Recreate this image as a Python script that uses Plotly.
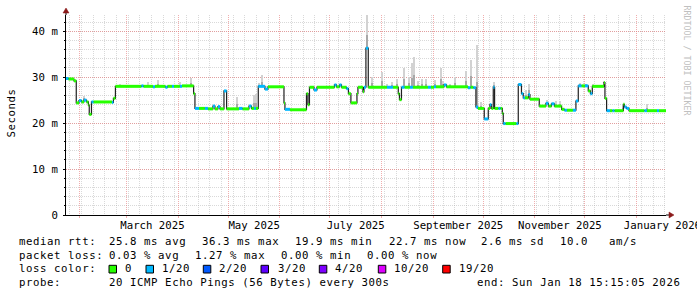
import numpy as np
import pandas as pd
import plotly.graph_objects as go

# ---------------- data ----------------
start_time = "2025-01-23 15:15"
end_time = "2026-01-18 15:15"

# median rtt steps (ms) and packets lost out of 20
seg_start = [
    "2025-01-23 15:15", "2025-01-25 02:00", "2025-01-28 10:00", "2025-01-29 19:00", "2025-01-31 10:00",
    "2025-02-01 22:00", "2025-02-03 10:00", "2025-02-04 22:00", "2025-02-06 02:00", "2025-02-06 14:00",
    "2025-02-07 22:00", "2025-02-09 02:00", "2025-02-20 05:00", "2025-02-21 02:00", "2025-02-22 07:00",
    "2025-03-09 22:00", "2025-03-11 02:00", "2025-03-16 19:00", "2025-03-18 00:00", "2025-03-24 07:00",
    "2025-03-25 12:00", "2025-03-28 05:00", "2025-03-29 10:00", "2025-04-02 00:00", "2025-04-03 05:00",
    "2025-04-10 05:00", "2025-04-11 00:00", "2025-04-13 10:00", "2025-04-17 00:00", "2025-04-18 19:00",
    "2025-04-21 19:00", "2025-04-23 00:00", "2025-04-24 19:00", "2025-04-26 00:00", "2025-04-28 10:00",
    "2025-04-30 00:00", "2025-05-07 10:00", "2025-05-09 12:00", "2025-05-13 10:00", "2025-05-14 22:00",
    "2025-05-16 10:00", "2025-05-17 14:00", "2025-05-19 00:00", "2025-05-23 00:00", "2025-05-24 19:00",
    "2025-06-03 10:00", "2025-06-04 00:00", "2025-06-07 00:00", "2025-06-16 22:00", "2025-06-17 19:00",
    "2025-06-18 17:00", "2025-06-21 10:00", "2025-06-23 05:00", "2025-07-03 17:00", "2025-07-04 22:00",
    "2025-07-06 17:00", "2025-07-07 22:00", "2025-07-10 22:00", "2025-07-12 02:00", "2025-07-13 14:00",
    "2025-07-17 05:00", "2025-07-17 19:00", "2025-07-20 19:00", "2025-07-21 10:00", "2025-07-22 14:00",
    "2025-07-24 00:00", "2025-08-04 05:00", "2025-08-07 19:00", "2025-08-11 00:00", "2025-08-11 17:00",
    "2025-08-12 22:00", "2025-08-14 17:00", "2025-08-18 00:00", "2025-08-19 19:00", "2025-08-28 19:00",
    "2025-08-30 14:00", "2025-09-01 10:00", "2025-09-02 14:00", "2025-09-07 10:00", "2025-09-08 22:00",
    "2025-09-21 19:00", "2025-09-23 07:00", "2025-09-25 02:00", "2025-09-26 14:00", "2025-09-27 19:00",
    "2025-10-01 14:00", "2025-10-04 00:00", "2025-10-05 00:00", "2025-10-05 22:00", "2025-10-07 00:00",
    "2025-10-07 19:00", "2025-10-10 02:00", "2025-10-11 07:00", "2025-10-12 10:00", "2025-10-13 00:00",
    "2025-10-14 07:00", "2025-10-20 22:00", "2025-10-22 00:00", "2025-10-23 22:00", "2025-10-25 00:00",
    "2025-10-26 00:00", "2025-10-28 02:00", "2025-10-29 00:00", "2025-11-03 14:00", "2025-11-07 14:00",
    "2025-11-09 02:00", "2025-11-10 22:00", "2025-11-12 17:00", "2025-11-17 00:00", "2025-11-18 17:00",
    "2025-11-20 05:00", "2025-11-23 19:00", "2025-11-25 14:00", "2025-11-27 00:00", "2025-11-28 22:00",
    "2025-12-01 00:00", "2025-12-03 00:00", "2025-12-04 07:00", "2025-12-05 10:00", "2025-12-12 10:00",
    "2025-12-13 00:00", "2025-12-14 00:00", "2025-12-16 00:00", "2025-12-17 12:00", "2025-12-18 17:00",
    "2025-12-24 02:00", "2025-12-24 17:00", "2025-12-25 22:00", "2025-12-27 10:00", "2026-01-05 17:00",
    "2026-01-07 05:00", "2026-01-13 05:00", "2026-01-14 10:00",
]
seg_rtt = [
    29.7, 29.6, 29.2, 24.4, 24.9,
    24.6, 25.0, 24.6, 23.9, 21.9,
    24.6, 24.6, 24.5, 25.4, 28.0,
    28.1, 28.0, 27.9, 28.0, 27.8,
    28.0, 28.0, 28.0, 28.0, 28.1,
    26.4, 23.2, 23.2, 23.2, 23.1,
    23.7, 23.1, 23.6, 23.1, 27.0,
    23.1, 23.2, 23.1, 23.7, 23.2,
    23.2, 23.2, 28.0, 27.4, 27.9,
    24.4, 23.0, 22.9, 26.4, 24.0,
    27.8, 27.2, 27.8, 28.3, 27.9,
    28.3, 27.8, 27.5, 26.4, 24.4,
    26.4, 27.8, 26.8, 27.8, 36.3,
    27.8, 27.8, 27.8, 26.4, 25.1,
    27.8, 27.8, 27.8, 27.8, 27.8,
    27.8, 27.9, 27.9, 28.3, 27.9,
    27.7, 27.8, 27.7, 23.5, 23.2,
    20.9, 23.2, 24.0, 23.2, 27.8,
    23.2, 23.2, 23.2, 22.1, 19.9,
    19.9, 19.9, 28.4, 26.4, 25.5,
    25.5, 26.2, 25.2, 23.7, 24.3,
    23.7, 24.2, 23.7, 23.0, 22.8,
    22.8, 22.8, 24.8, 28.1, 28.1,
    28.1, 27.0, 26.4, 28.0, 28.8,
    25.4, 22.7, 22.7, 22.7, 22.7,
    24.1, 23.5, 23.2, 22.7, 22.7,
    22.7, 22.7, 22.7,
]
seg_loss = [
    1, 0, 0, 0, 1,
    0, 1, 0, 0, 0,
    1, 0, 1, 0, 0,
    1, 0, 1, 0, 1,
    0, 1, 0, 1, 0,
    0, 1, 0, 1, 0,
    1, 0, 1, 0, 1,
    0, 1, 0, 1, 0,
    1, 0, 1, 1, 0,
    0, 1, 0, 0, 0,
    0, 1, 0, 1, 0,
    1, 0, 1, 0, 0,
    0, 0, 0, 1, 1,
    0, 1, 0, 0, 0,
    1, 0, 1, 0, 1,
    0, 1, 0, 1, 0,
    1, 0, 1, 1, 0,
    1, 0, 1, 0, 1,
    0, 1, 0, 0, 1,
    0, 1, 1, 1, 1,
    0, 1, 0, 0, 1,
    0, 1, 0, 0, 1,
    0, 1, 1, 1, 0,
    1, 0, 1, 0, 0,
    0, 1, 0, 1, 0,
    0, 1, 1, 0, 1,
    0, 1, 0,
]

# smoke: highest ping of the round (ms)
smoke_time = [
    "2025-02-03 10:00", "2025-02-25 00:00", "2025-03-13 19:00", "2025-03-19 19:00", "2025-04-02 05:00",
    "2025-04-08 14:00", "2025-05-06 14:00", "2025-05-16 14:00", "2025-05-18 00:00", "2025-05-19 14:00",
    "2025-05-21 14:00", "2025-07-23 10:00", "2025-07-26 12:00", "2025-08-01 14:00", "2025-08-04 14:00",
    "2025-08-07 14:00", "2025-08-10 10:00", "2025-08-14 14:00", "2025-08-17 14:00", "2025-08-19 10:00",
    "2025-08-20 14:00", "2025-08-23 00:00", "2025-08-25 14:00", "2025-08-28 00:00", "2025-09-02 00:00",
    "2025-09-05 10:00", "2025-09-07 00:00", "2025-09-11 00:00", "2025-09-14 00:00", "2025-09-20 14:00",
    "2025-09-23 10:00", "2025-09-27 14:00", "2025-09-29 14:00", "2025-10-07 10:00", "2025-10-12 00:00",
    "2025-10-26 19:00", "2025-10-28 14:00", "2025-11-08 14:00", "2025-11-13 14:00", "2025-11-16 00:00",
    "2025-11-28 00:00", "2025-12-01 14:00", "2025-12-06 00:00", "2025-12-12 10:00", "2025-12-24 00:00",
    "2026-01-07 14:00",
]
smoke_top = [
    26.0, 28.6, 28.9, 29.4, 29.0,
    29.8, 25.7, 26.1, 26.4, 28.7,
    30.4, 43.5, 30.0, 31.2, 28.5,
    29.0, 29.5, 32.1, 30.1, 33.1,
    34.3, 29.2, 29.7, 29.5, 29.3,
    32.0, 29.2, 28.6, 30.1, 31.3,
    33.8, 37.0, 24.6, 29.0, 23.6,
    27.3, 28.6, 25.1, 24.8, 24.8,
    28.8, 28.6, 28.6, 29.1, 24.0,
    24.2,
]

y_tick_vals = [0, 10, 20, 30, 40]
y_tick_text = ["0", "10 m", "20 m", "30 m", "40 m"]
x_label_months = ["2025-03-01", "2025-05-01", "2025-07-01", "2025-09-01", "2025-11-01", "2026-01-01"]
x_label_text = ["March 2025", "May 2025", "July 2025", "September 2025", "November 2025", "January 2026"]

loss_labels = ["0", "1/20", "2/20", "3/20", "4/20", "10/20", "19/20"]
loss_colors = ["#26ff00", "#00b8ff", "#0059ff", "#5e00ff", "#7e00ff", "#dd00ff", "#ff0000"]

legend_rows = [
    [("median rtt:", 16.7), ("25.8 ms avg", 107.3), ("36.3 ms max", 200.0), ("19.9 ms min", 293.3),
     ("22.7 ms now", 386.7), ("2.6 ms sd", 479.3), ("10.0", 558.3), ("am/s", 607.3)],
    [("packet loss:", 16.7), ("0.03 % avg", 107.3), ("1.27 % max", 193.3), ("0.00 % min", 279.3),
     ("0.00 % now", 365.0)],
    [("loss color:", 16.7)],
    [("probe:", 16.7), ("20 ICMP Echo Pings (56 Bytes) every 300s", 107.3),
     ("end: Sun Jan 18 15:15:05 2026", 475.0)],
]
legend_baselines = [245.3, 258.7, 272.3, 286.3]
swatch_x = [109.0, 146.0, 203.3, 261.0, 319.3, 378.3, 442.7]
swatch_label_x = [122.7, 160.0, 217.3, 275.7, 333.3, 391.7, 456.7]

# ---------------- geometry helpers ----------------
W, H = 697, 297
L, R, T, B = 66, 31, 15, 82
PW, PH = W - L - R, H - T - B
def px(x):
    return (x - L) / PW
def py(y):
    return (T + PH - y) / PH

FONT = "DejaVu Sans Mono"
FS = 10.7
def sp(s):
    return '<span style="letter-spacing:0.58px">' + s.replace(" ", "&nbsp;") + "</span>"

# ---------------- traces ----------------
starts = pd.to_datetime(seg_start)
ends = list(starts[1:]) + [pd.Timestamp(end_time)]
fig = go.Figure()

# smoke
st = pd.to_datetime(smoke_time)
idx = np.searchsorted(starts.values, st.values, side="right") - 1
base = np.array(seg_rtt)[idx]
height = np.array(smoke_top) - base
bw = 0.75 * 86400000
fig.add_trace(go.Bar(x=st, y=height, base=base, width=bw, marker=dict(color="#d2d2d2", line_width=0),
                     hoverinfo="skip", showlegend=False))
fig.add_trace(go.Bar(x=st, y=height * 0.4, base=base, width=bw, marker=dict(color="#a8a8a8", line_width=0),
                     hoverinfo="skip", showlegend=False))

# median line
fig.add_trace(go.Scatter(x=list(starts) + [pd.Timestamp(end_time)], y=seg_rtt + [seg_rtt[-1]],
                         mode="lines", line=dict(color="#202020", width=1.2, shape="hv"),
                         hoverinfo="skip", showlegend=False))

# loss-coloured band
for lvl in sorted(set(seg_loss)):
    xs, ys = [], []
    for s0, e0, v, l in zip(starts, ends, seg_rtt, seg_loss):
        if l == lvl:
            xs += [s0, e0, None]
            ys += [v, v, None]
    fig.add_trace(go.Scatter(x=xs, y=ys, mode="lines", line=dict(color=loss_colors[lvl], width=3),
                             connectgaps=False, hoverinfo="skip", showlegend=False))

# invisible anchor for label axis
fig.add_trace(go.Scatter(x=[start_time, end_time], y=[0, 0], xaxis="x2", mode="markers",
                         marker=dict(opacity=0), hoverinfo="skip", showlegend=False))

lm = pd.to_datetime(x_label_months)
mid = [m + (m + pd.offsets.MonthBegin(1) - m) / 2 for m in lm]

minor_grid = "rgba(170,170,170,0.45)"
major_grid = "rgba(230,120,120,0.6)"

fig.update_layout(
    width=W, height=H, autosize=False,
    margin=dict(l=L, r=R, t=T, b=B, pad=0, autoexpand=False),
    paper_bgcolor="white", plot_bgcolor="white",
    barmode="overlay", bargap=0,
    showlegend=False,
    font=dict(family=FONT, size=FS, color="#000000"),
    xaxis=dict(type="date", range=[start_time, end_time], dtick="M1", tick0="2025-02-01",
               automargin=False,
               showticklabels=False, showgrid=True, gridcolor=major_grid, griddash="1px,1px",
               gridwidth=1, zeroline=False, showline=True, linecolor="#000000", linewidth=1,
               ticks="outside", ticklen=2, tickcolor=major_grid,
               minor=dict(dtick=7 * 86400000, tick0="2025-02-02", showgrid=True, gridcolor=minor_grid,
                          griddash="1px,1px", gridwidth=1, ticks="")),
    xaxis2=dict(type="date", range=[start_time, end_time], overlaying="x", anchor="y", side="bottom",
                automargin=False,
                tickvals=mid, ticktext=x_label_text, showgrid=False, showline=False, zeroline=False,
                ticks="", ticklabelstandoff=2, ticklabeloverflow="allow",
                tickfont=dict(family=FONT, size=FS, color="#000000")),
    yaxis=dict(range=[0, PH / 4.595], tickvals=y_tick_vals, ticktext=y_tick_text,
               automargin=False,
               showgrid=True, gridcolor=major_grid, griddash="1px,1px", gridwidth=1,
               zeroline=False, showline=True, linecolor="#000000", linewidth=1,
               ticks="outside", ticklen=2, tickcolor="#000000", ticklabelstandoff=3,
               tickfont=dict(family=FONT, size=FS, color="#000000"),
               minor=dict(dtick=2, tick0=0, showgrid=True, gridcolor=minor_grid, griddash="1px,1px",
                          gridwidth=1, ticks="outside", ticklen=1, tickcolor="#000000")),
)

ann = []
for row, yb in zip(legend_rows, legend_baselines):
    for text, x in row:
        ann.append(dict(text=sp(text), x=px(x), y=py(yb - 3.6), xref="paper", yref="paper",
                        xanchor="left", yanchor="middle", showarrow=False,
                        font=dict(family=FONT, size=FS, color="#000000")))
for lab, col, sx, lx in zip(loss_labels, loss_colors, swatch_x, swatch_label_x):
    ann.append(dict(text=sp(lab), x=px(lx), y=py(legend_baselines[2] - 3.6), xref="paper", yref="paper",
                    xanchor="left", yanchor="middle", showarrow=False,
                    font=dict(family=FONT, size=FS, color="#000000")))
ann.append(dict(text=sp("Seconds"), x=px(11), y=py(113.5), xref="paper", yref="paper",
                xanchor="center", yanchor="middle", textangle=-90, showarrow=False,
                font=dict(family=FONT, size=FS, color="#000000")))
ann.append(dict(text="RRDTOOL / TOBI OETIKER", x=px(686.5), y=py(60), xref="paper", yref="paper",
                xanchor="center", yanchor="middle", textangle=90, showarrow=False,
                font=dict(family=FONT, size=8.3, color="#c0c0c0")))
fig.update_layout(annotations=ann)

shapes = []
for col, sx in zip(loss_colors, swatch_x):
    shapes.append(dict(type="rect", xref="paper", yref="paper", x0=px(sx), x1=px(sx + 7.5),
                       y0=py(273), y1=py(265.3), fillcolor=col, line=dict(color="#000000", width=1)))
# axis arrows
ar = "#8b1a1a"
shapes.append(dict(type="line", xref="paper", yref="paper", x0=1, x1=px(670), y0=0, y1=0,
                   line=dict(color="#000000", width=1)))
shapes.append(dict(type="path", xref="paper", yref="paper",
                   path=f"M {px(669)} {py(212)} L {px(674)} {py(215)} L {px(669)} {py(218)} Z",
                   fillcolor=ar, line=dict(color=ar, width=0.5)))
shapes.append(dict(type="line", xref="paper", yref="paper", x0=0, x1=0, y0=1, y1=py(11),
                   line=dict(color="#000000", width=1)))
shapes.append(dict(type="path", xref="paper", yref="paper",
                   path=f"M {px(63)} {py(13)} L {px(66)} {py(8)} L {px(69)} {py(13)} Z",
                   fillcolor=ar, line=dict(color=ar, width=0.5)))
fig.update_layout(shapes=shapes)

fig.write_html("out.html")
